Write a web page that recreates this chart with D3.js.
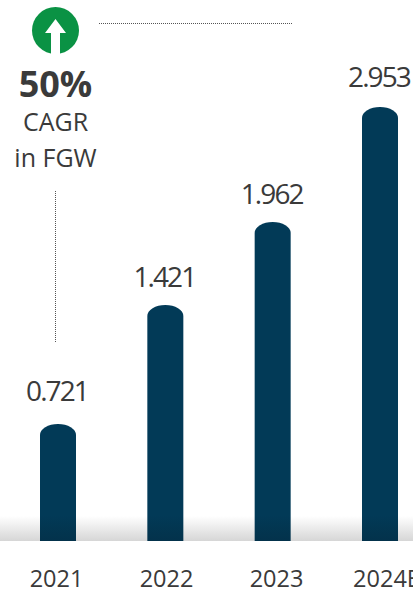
<!DOCTYPE html>
<html>
<head>
<meta charset="utf-8">
<script src="https://cdn.jsdelivr.net/npm/d3@7"></script>
<style>
  html, body { margin: 0; padding: 0; background: #fff; overflow: hidden; }
  text { font-family: "Open Sans", sans-serif; fill: #3a3a3a; }
</style>
</head>
<body>
<div id="chart"></div>
<script>
const years = ["2021", "2022", "2023", "2024E"];
const valueLabels = ["0.721", "1.421", "1.962", "2.953"];
// drawn bar heights in the source aren't proportional to the printed labels, so read them off separately
const barValues = [0.796, 1.606, 2.171, 2.953];
// labels sit a little unevenly above the bars in the source
const labelGaps = [23, 17.5, 18, 20];

const width = 413;
const height = 590;
const baseY = 541;
const barW = 36;
const domeH = 11;

const svg = d3.select("#chart")
  .append("svg")
  .attr("width", width)
  .attr("height", height);

const defs = svg.append("defs");

const floorGrad = defs.append("linearGradient")
  .attr("id", "floor")
  .attr("x1", 0).attr("y1", 0).attr("x2", 0).attr("y2", 1);
floorGrad.append("stop").attr("offset", "0%").attr("stop-color", "#ffffff");
floorGrad.append("stop").attr("offset", "100%").attr("stop-color", "#d6d6d6");

const barGrad = defs.append("linearGradient")
  .attr("id", "barFade")
  .attr("gradientUnits", "userSpaceOnUse")
  .attr("x1", 0).attr("y1", 515).attr("x2", 0).attr("y2", baseY);
barGrad.append("stop").attr("offset", "0%").attr("stop-color", "#023a57");
barGrad.append("stop").attr("offset", "100%").attr("stop-color", "#03324b");

const x = d3.scalePoint()
  .domain(years)
  .range([58, 380]);

// year labels are spaced slightly wider than the bars
const xLabels = d3.scalePoint()
  .domain(years)
  .range([56, 386]);

const y = d3.scaleLinear()
  .domain([0, 2.953])
  .range([baseY, 107]);

// grey floor band behind the bars
svg.append("rect")
  .attr("x", 0)
  .attr("y", 516)
  .attr("width", width)
  .attr("height", baseY - 516)
  .attr("fill", "url(#floor)");

function barPath(d, i) {
  const cx = x(years[i]);
  const l = cx - barW / 2;
  const r = cx + barW / 2;
  const top = y(d);
  return `M${l},${baseY}L${l},${top + domeH}` +
    `A${barW / 2},${domeH} 0 0 1 ${r},${top + domeH}` +
    `L${r},${baseY}Z`;
}

svg.append("g")
  .selectAll("path")
  .data(barValues)
  .join("path")
  .attr("d", barPath)
  .attr("fill", "url(#barFade)");

svg.append("g")
  .selectAll("text")
  .data(barValues)
  .join("text")
  .attr("x", (d, i) => x(years[i]) - 1)
  .attr("y", (d, i) => y(d) - labelGaps[i])
  .attr("text-anchor", "middle")
  .attr("font-size", 28)
  .attr("letter-spacing", -1.9)
  .text((d, i) => valueLabels[i]);

const xAxis = d3.axisBottom(xLabels).tickSize(0).tickPadding(0);
const axisG = svg.append("g")
  .attr("transform", `translate(0,${baseY})`)
  .call(xAxis);
axisG.select(".domain").remove();
axisG.selectAll("text")
  .attr("y", 46)
  .attr("dy", 0)
  .attr("font-size", 23.5)
  .attr("font-family", '"Open Sans", sans-serif');

// dotted leader lines
const dotted = svg.append("g")
  .attr("stroke", "#555")
  .attr("stroke-width", 1)
  .attr("stroke-dasharray", "1 1");
dotted.append("line").attr("x1", 99).attr("x2", 293).attr("y1", 23.5).attr("y2", 23.5);
dotted.append("line").attr("x1", 55.5).attr("x2", 55.5).attr("y1", 191).attr("y2", 342);

// growth badge
const badge = svg.append("g").attr("transform", "translate(55.5,30.5)");
badge.append("circle").attr("r", 23.5).attr("fill", "#0a9244");
badge.append("path")
  .attr("fill", "#fff")
  .attr("d", "M0,-11.5L10.5,2.5L4.5,2.5L4.5,24L-4.5,24L-4.5,2.5L-10.5,2.5Z");

svg.append("text")
  .attr("x", 55.5).attr("y", 97)
  .attr("text-anchor", "middle")
  .attr("font-size", 36)
  .attr("font-weight", 700)
  .text("50%");
svg.append("text")
  .attr("x", 55.5).attr("y", 131)
  .attr("text-anchor", "middle")
  .attr("font-size", 25)
  .text("CAGR");
svg.append("text")
  .attr("x", 55.5).attr("y", 167)
  .attr("text-anchor", "middle")
  .attr("font-size", 25)
  .text("in FGW");
</script>
</body>
</html>
